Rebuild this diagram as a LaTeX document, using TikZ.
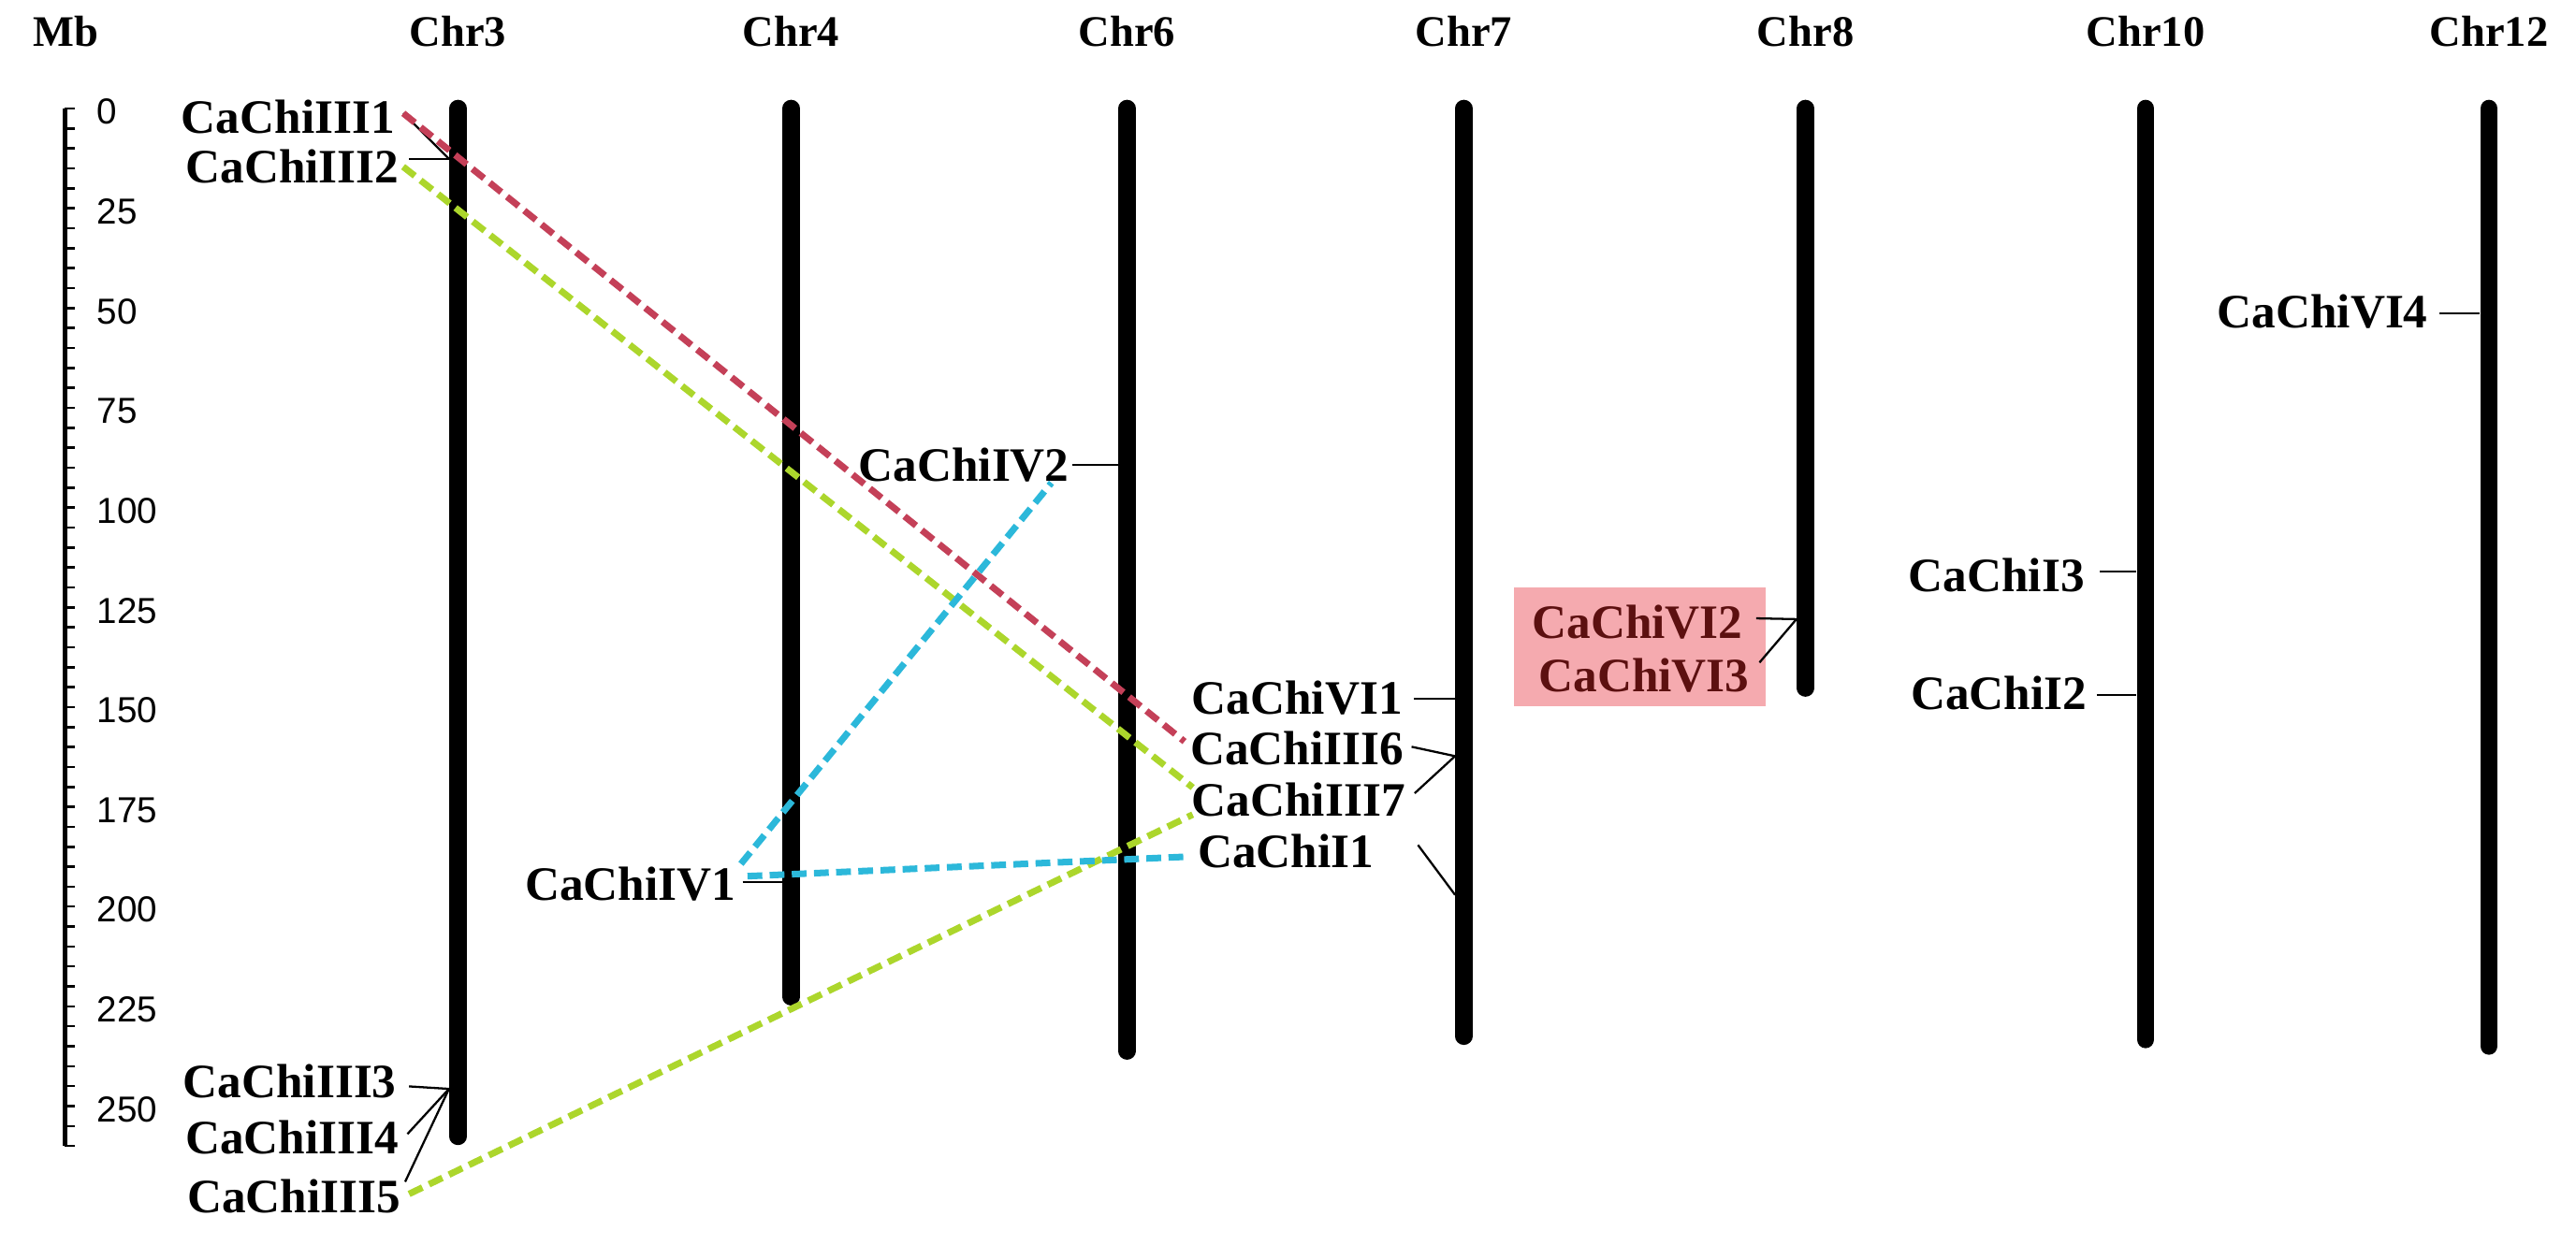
\documentclass[tikz,border=0pt]{standalone}
\usepackage{fontspec}
\setmainfont{Liberation Serif}
\newfontfamily\numfont{Liberation Sans}
\definecolor{dupred}{RGB}{196,64,88}
\definecolor{dupgreen}{RGB}{172,214,44}
\definecolor{dupblue}{RGB}{44,184,218}
\definecolor{pinkbg}{RGB}{245,170,175}
\definecolor{darkred}{RGB}{92,16,16}
\begin{document}
\begin{tikzpicture}[x=1pt,y=-1pt,
  chrom/.style={line width=10.5pt, line cap=round, black},
  lead/.style={line width=1.3pt, black},
  lbl/.style={font=\fontsize{29.2}{32}\selectfont\bfseries, inner sep=0pt},
  hdr/.style={font=\fontsize{26.5}{30}\selectfont\bfseries, inner sep=0pt},
  num/.style={font=\numfont\fontsize{22}{24}\selectfont, inner sep=0pt, anchor=west},
  dup/.style={line width=4pt, dash pattern=on 9pt off 4.5pt}]
\useasboundingbox (0,0) rectangle (1568,758);

% headers
\node[hdr] (mb) at (40,19) {Mb};
\node[hdr] (h3) at (278.8,19) {Chr3};
\node[hdr] (h4) at (481.5,19) {Chr4};
\node[hdr] (h6) at (686,19) {Chr6};
\node[hdr] (h7) at (891,19) {Chr7};
\node[hdr] (h8) at (1099,19) {Chr8};
\node[hdr] (h10) at (1306,19) {Chr10};
\node[hdr] (h12) at (1515,19) {Chr12};

% scale bar
\draw[line width=3pt] (39.4,66) -- (39.4,697.8);
\foreach \m in {0,5,...,260} \draw[line width=1.5pt] (39.4,{66+2.43*\m}) -- ++(6,0);
\foreach \m in {0,25,...,250} \node[num] at (59,{68+2.43*\m}) {\m};

% pink highlight
\fill[pinkbg] (921.7,357.8) rectangle (1074.6,430);

% chromosomes
\coordinate (c3t) at (278.8,66);  \coordinate (c3b) at (278.8,692);
\coordinate (c4t) at (481.5,66);  \coordinate (c4b) at (481.5,607);
\coordinate (c6t) at (686,66);    \coordinate (c6b) at (686,640);
\coordinate (c7t) at (891,66);    \coordinate (c7b) at (891,631);
\coordinate (c8t) at (1099,66);   \coordinate (c8b) at (1099,419);
\coordinate (c10t) at (1306,66);  \coordinate (c10b) at (1306,633);
\coordinate (c12t) at (1515,66);  \coordinate (c12b) at (1515,637);
\foreach \c in {3,4,6,7,8,10,12} \draw[chrom] (c\c t) -- (c\c b);

% labels
\node[lbl,anchor=east] (iii1) at (240.5,71) {CaChiIII1};
\node[lbl,anchor=east] (iii2) at (243,101.5) {CaChiIII2};
\node[lbl,anchor=east] (iii3) at (241.5,658.5) {CaChiIII3};
\node[lbl,anchor=east] (iii4) at (242.8,692.4) {CaChiIII4};
\node[lbl,anchor=east] (iii5) at (244,728.3) {CaChiIII5};
\node[lbl,anchor=east] (iv1) at (448,538) {CaChiIV1};
\node[lbl,anchor=east] (iv2) at (651,283) {CaChiIV2};
\node[lbl,anchor=west] (vi1) at (725.3,425) {CaChiVI1};
\node[lbl,anchor=west] (iii6) at (724.3,455.7) {CaChiIII6};
\node[lbl,anchor=west] (iii7) at (725.3,487) {CaChiIII7};
\node[lbl,anchor=west] (i1) at (729,518) {CaChiI1};
\node[lbl,anchor=east,text=darkred] (vi2) at (1061,378.8) {CaChiVI2};
\node[lbl,anchor=east,text=darkred] (vi3) at (1065,411) {CaChiVI3};
\node[lbl,anchor=east] (i3) at (1269,350) {CaChiI3};
\node[lbl,anchor=east] (i2) at (1270.5,422) {CaChiI2};
\node[lbl,anchor=east] (vi4) at (1478,190) {CaChiVI4};

% leader lines
\coordinate (p3a) at (273.3,96.7);
\coordinate (p3b) at (273.3,663);
\coordinate (p4a) at (476,537);
\coordinate (p6a) at (681,283);
\coordinate (p7a) at (885.7,425.5);
\coordinate (p7b) at (885.7,460.4);
\coordinate (p7c) at (885.7,544.9);
\coordinate (p8a) at (1093.5,377);
\coordinate (p10a) at (1300.5,348);
\coordinate (p10b) at (1300.5,423);
\coordinate (p12a) at (1509.5,191);
\draw[lead] ([shift={(5,-2)}]iii1.east) -- (p3a);
\draw[lead] ([shift={(6,-4.8)}]iii2.east) -- (p3a);
\draw[lead] ([shift={(7.5,3)}]iii3.east) -- (p3b);
\draw[lead] ([shift={(5.2,-1.9)}]iii4.east) -- (p3b);
\draw[lead] ([shift={(2.6,-8.7)}]iii5.east) -- (p3b);
\draw[lead] ([shift={(4,-1)}]iv1.east) -- (p4a);
\draw[lead] ([shift={(1.5,0)}]iv2.east) -- (p6a);
\draw[lead] ([shift={(6.6,0.5)}]vi1.east) -- (p7a);
\draw[lead] ([shift={(4.7,-1)}]iii6.east) -- (p7b);
\draw[lead] ([shift={(5.6,-4)}]iii7.east) -- (p7b);
\draw[lead] ([shift={(26.6,-3.5)}]i1.east) -- (p7c);
\draw[lead] ([shift={(8,-2.3)}]vi2.east) -- (p8a);
\draw[lead] ([shift={(6,-7.6)}]vi3.east) -- (p8a);
\draw[lead] ([shift={(9,-2)}]i3.east) -- (p10a);
\draw[lead] ([shift={(5.8,1)}]i2.east) -- (p10b);
\draw[lead] ([shift={(7,1)}]vi4.east) -- (p12a);

% duplication links
\draw[dup,dupred] ([shift={(5,-2)}]iii1.east) -- ([shift={(-3.3,-4.2)}]iii6.west);
\draw[dup,dupgreen] ([shift={(2.4,0)}]iii2.east) -- ([shift={(0.7,-7.5)}]iii7.west);
\draw[dup,dupgreen] ([shift={(5,-1.3)}]iii5.east) -- ([shift={(0.7,9)}]iii7.west);
\draw[dup,dupblue] ([shift={(3,-12)}]iv1.east) -- ([shift={(-11,11)}]iv2.east);
\draw[dup,dupblue] ([shift={(7,-4.5)}]iv1.east) -- ([shift={(-8,3.7)}]i1.west);
\end{tikzpicture}
\end{document}
